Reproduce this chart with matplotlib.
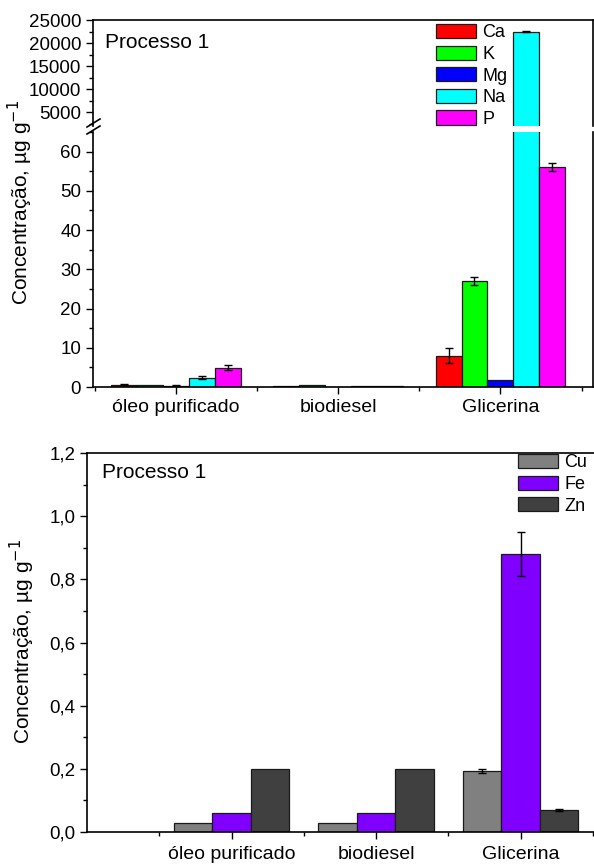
import numpy as np
import matplotlib.pyplot as plt
from matplotlib.lines import Line2D
from matplotlib.patches import Patch
from matplotlib.ticker import MultipleLocator, FixedLocator, FuncFormatter

plt.rcParams['font.family'] = ['Liberation Sans', 'DejaVu Sans']
plt.rcParams['font.size'] = 13

samples = ['óleo purificado', 'biodiesel', 'Glicerina']

# macro elements, ug/g
macro_names = ['Ca', 'K', 'Mg', 'Na', 'P']
macro_colors = ['#ff0000', '#00ff00', '#0000ff', '#00ffff', '#ff00ff']
ca = [0.6, 0.25, 8.0]
ca_err = [0.1, 0.0, 2.0]
k = [0.6, 0.6, 27.0]
k_err = [0.0, 0.0, 1.0]
mg = [0.35, 0.05, 1.8]
mg_err = [0.1, 0.0, 0.0]
na = [2.4, 0.25, 22500.0]
na_err = [0.3, 0.0, 150.0]
p = [4.9, 0.25, 56.0]
p_err = [0.6, 0.0, 1.0]
macro = [ca, k, mg, na, p]
macro_err = [ca_err, k_err, mg_err, na_err, p_err]

# trace elements, ug/g
trace_names = ['Cu', 'Fe', 'Zn']
trace_colors = ['#808080', '#8000ff', '#404040']
cu = [0.03, 0.03, 0.193]
cu_err = [0.0, 0.0, 0.007]
fe = [0.06, 0.06, 0.88]
fe_err = [0.0, 0.0, 0.07]
zn = [0.2, 0.2, 0.07]
zn_err = [0.0, 0.0, 0.002]
trace = [cu, fe, zn]
trace_err = [cu_err, fe_err, zn_err]

W, H = 594, 866
fig = plt.figure(figsize=(W / 100, H / 100), dpi=100)


def box(left, top, right, bottom):
    # pixel box -> figure fraction
    return [left / W, 1 - bottom / H, (right - left) / W, (bottom - top) / H]


ax_hi = fig.add_axes(box(93, 20, 593, 126))
ax_lo = fig.add_axes(box(93, 132, 593, 387))
ax_tr = fig.add_axes(box(87, 453, 600, 832))

x = np.arange(1, len(samples) + 1)
edge = '#1a1a1a'
ylab = 'Concentração, µg g$^{-1}$'
ytick_fs = 13.5
xtick_fs = 14


def grouped(ax, data, errs, colors, width):
    for i, (vals, err, c) in enumerate(zip(data, errs, colors)):
        pos = x - 0.4 + width * (i + 0.5)
        ax.bar(pos, vals, width, color=c, edgecolor=edge, linewidth=0.9)
        e = np.array(err)
        m = e > 0
        ax.errorbar(pos[m], np.array(vals)[m], yerr=e[m], fmt='none',
                    ecolor='black', elinewidth=1, capsize=3, capthick=1)


for ax in (ax_hi, ax_lo):
    grouped(ax, macro, macro_err, macro_colors, 0.16)
    ax.set_xlim(0.49, 3.57)
    for s in ax.spines.values():
        s.set_linewidth(1.2)
    ax.tick_params(direction='out', length=5, width=1, labelsize=ytick_fs)
    ax.tick_params(which='minor', direction='out', length=3, width=1)

ax_hi.set_ylim(2000, 25000)
ax_hi.yaxis.set_major_locator(MultipleLocator(5000))
ax_hi.yaxis.set_minor_locator(MultipleLocator(2500))
ax_hi.spines['bottom'].set_visible(False)
ax_hi.set_xticks([])

ax_lo.set_ylim(0, 65)
ax_lo.yaxis.set_major_locator(MultipleLocator(10))
ax_lo.yaxis.set_minor_locator(MultipleLocator(5))
ax_lo.spines['top'].set_visible(False)
ax_lo.set_xticks(x)
ax_lo.set_xticklabels(samples, fontsize=xtick_fs)
ax_lo.xaxis.set_minor_locator(FixedLocator([0.5, 1.5, 2.5, 3.5]))
ax_lo.tick_params(axis='x', pad=4)

# break marks on the left axis line
for yb in (123, 130):
    fig.add_artist(Line2D([87 / W, 100 / W], [1 - (yb + 4) / H, 1 - (yb - 4) / H],
                          color='black', linewidth=1.2))

fig.text(20 / W, 1 - 203 / H, ylab, rotation=90, ha='center', va='center', fontsize=15)
fig.text(105 / W, 1 - 43 / H, 'Processo 1', ha='left', va='center', fontsize=15)

handles = [Patch(facecolor=c, edgecolor=edge, linewidth=0.9) for c in macro_colors]
fig.legend(handles, macro_names, loc='upper left', bbox_to_anchor=(436 / W, 1 - 24 / H),
           frameon=False, fontsize=13, borderpad=0, borderaxespad=0,
           handlelength=2.2, handleheight=0.82, handletextpad=0.35, labelspacing=0.24)

# trace elements panel
grouped(ax_tr, trace, trace_err, trace_colors, 0.8 / 3)
ax_tr.set_xlim(0, 3.55)
ax_tr.set_ylim(0, 1.2)
ax_tr.yaxis.set_major_locator(MultipleLocator(0.2))
ax_tr.yaxis.set_minor_locator(MultipleLocator(0.1))
ax_tr.yaxis.set_major_formatter(FuncFormatter(lambda v, pos: f'{v:.1f}'.replace('.', ',')))
ax_tr.set_xticks(x)
ax_tr.set_xticklabels(samples, fontsize=xtick_fs)
ax_tr.xaxis.set_minor_locator(FixedLocator([0.5, 1.5, 2.5, 3.5]))
ax_tr.spines['right'].set_visible(False)
for s in ax_tr.spines.values():
    s.set_linewidth(1.2)
ax_tr.tick_params(axis='y', direction='out', length=5, width=1, labelsize=ytick_fs)
ax_tr.tick_params(axis='x', direction='out', length=5, width=1, pad=5)
ax_tr.tick_params(which='minor', direction='out', length=3, width=1)

fig.text(22 / W, 1 - 642 / H, ylab, rotation=90, ha='center', va='center', fontsize=15)
fig.text(102 / W, 1 - 473 / H, 'Processo 1', ha='left', va='center', fontsize=15)

handles = [Patch(facecolor=c, edgecolor=edge, linewidth=0.9) for c in trace_colors]
fig.legend(handles, trace_names, loc='upper left', bbox_to_anchor=(518 / W, 1 - 454 / H),
           frameon=False, fontsize=13, borderpad=0, borderaxespad=0,
           handlelength=2.2, handleheight=0.82, handletextpad=0.35, labelspacing=0.24)

fig.savefig('out.png', dpi=100)
